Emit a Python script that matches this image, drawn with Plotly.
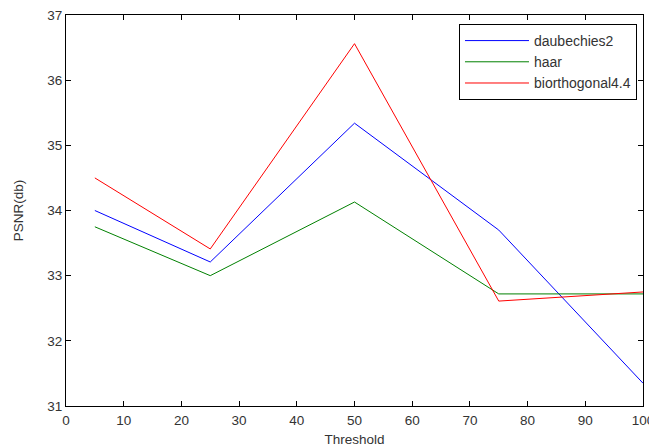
import plotly.graph_objects as go

thresholds = [5, 25, 50, 75, 100]
daubechies2 = [34.0, 33.21, 35.34, 33.70, 31.35]
haar = [33.75, 33.0, 34.13, 32.72, 32.72]
biorthogonal44 = [34.50, 33.41, 36.56, 32.61, 32.75]

x_ticks = [0, 10, 20, 30, 40, 50, 60, 70, 80, 90, 100]
y_ticks = [31, 32, 33, 34, 35, 36, 37]

fig = go.Figure()
for name, vals, col in [("daubechies2", daubechies2, "#0000ff"),
                        ("haar", haar, "#008000"),
                        ("biorthogonal4.4", biorthogonal44, "#ff0000")]:
    fig.add_trace(go.Scatter(x=thresholds, y=vals, mode="lines", name=name,
                             line=dict(color=col, width=1)))

font = dict(family="Liberation Sans, Arial, sans-serif", size=13.5, color="#333333")
axis_common = dict(showgrid=False, zeroline=False, showline=True, linecolor="black",
                   linewidth=1, mirror="ticks", ticks="inside", ticklen=5,
                   tickcolor="black", tickfont=font, automargin=False,
                   ticklabeloverflow="allow")

# page has an 8px body margin, so the figure is sized/offset to compensate
fig.update_layout(
    width=649, height=439,
    margin=dict(l=58, r=14, t=7, b=41),
    paper_bgcolor="white", plot_bgcolor="white",
    font=font,
    xaxis=dict(range=[0, 100], tickvals=x_ticks, ticklabelstandoff=2,
               title=dict(text="Threshold", font=font, standoff=8), **axis_common),
    yaxis=dict(range=[31, 37], tickvals=y_ticks,
               title=dict(text="PSNR(db)", font=font, standoff=20), **axis_common),
    legend=dict(x=0.9896, y=0.977, xanchor="right", yanchor="top",
                bordercolor="black", borderwidth=1, bgcolor="white",
                font=dict(family="Liberation Sans, Arial, sans-serif", size=14, color="#333333"),
                tracegroupgap=0, itemwidth=64),
    showlegend=True,
)

fig.write_html("out.html")
